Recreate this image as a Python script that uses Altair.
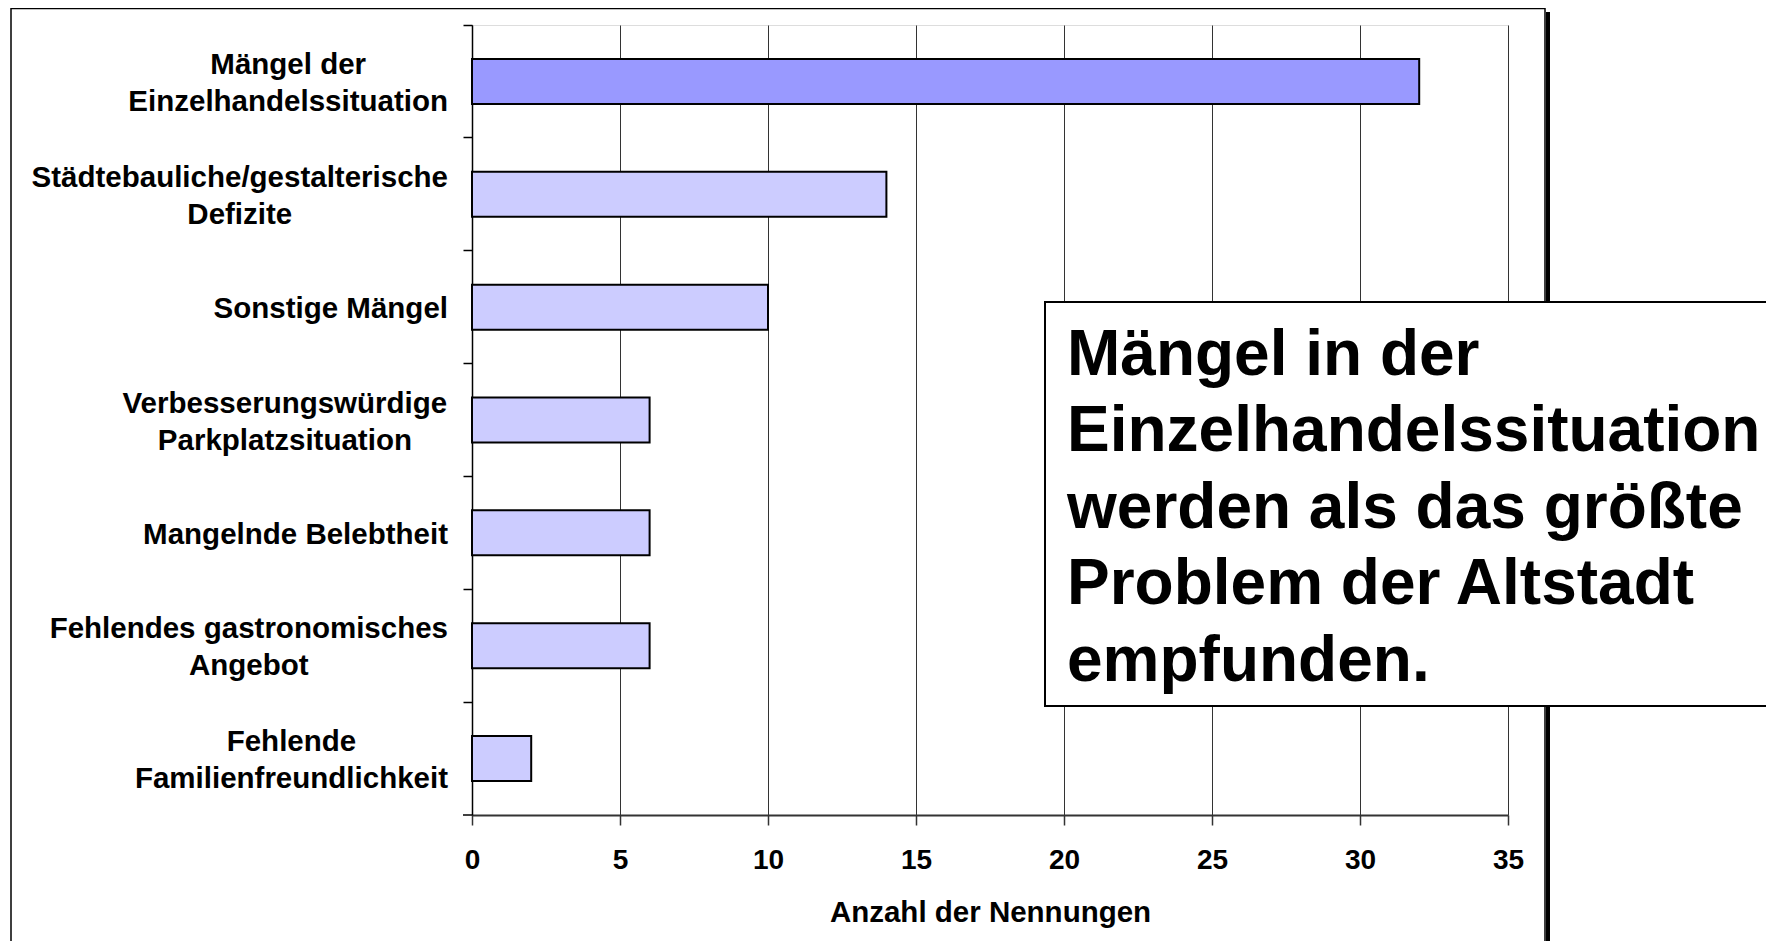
import altair as alt
import pandas as pd

# ---- data ----
categories = [
    "Mängel der\nEinzelhandelssituation",
    "Städtebauliche/gestalterische\nDefizite",
    "Sonstige Mängel",
    "Verbesserungswürdige\nParkplatzsituation",
    "Mangelnde Belebtheit",
    "Fehlendes gastronomisches\nAngebot",
    "Fehlende\nFamilienfreundlichkeit",
]
values = [32, 14, 10, 6, 6, 6, 2]
highlight = [True, False, False, False, False, False, False]
x_ticks = [0, 5, 10, 15, 20, 25, 30, 35]
x_title = "Anzahl der Nennungen"
note_lines = [
    "Mängel in der",
    "Einzelhandelssituation",
    "werden als das größte",
    "Problem der Altstadt",
    "empfunden.",
]

# ---- layout ----
W, H = 1036, 790
XMAX = 35
FONT = "Liberation Sans"
LABEL_FS = 29.5
LABEL_LH = 37
LABEL_GAP = 24

# Arial/Liberation Sans Bold advance widths (per 1000 em) to centre the
# multi-line category labels inside a right-aligned block (Excel style)
ADV = {' ': 278, '/': 278, '.': 278, 'A': 722, 'B': 722, 'D': 722, 'E': 667,
       'F': 611, 'M': 833, 'P': 667, 'S': 667, 'V': 667, 'a': 556, 'b': 611,
       'c': 556, 'd': 611, 'e': 556, 'f': 333, 'g': 611, 'h': 611, 'i': 278,
       'k': 556, 'l': 278, 'm': 889, 'n': 611, 'o': 611, 'p': 611, 'r': 389,
       's': 556, 't': 333, 'u': 611, 'w': 778, 'z': 500, 'ä': 556, 'ü': 611}


def text_width(s, fs):
    return max(sum(ADV.get(c, 600) for c in line) for line in s.split("\n")) * fs / 1000.0


px_per_unit = W / XMAX
label_anchor = [(-LABEL_GAP - text_width(c, LABEL_FS) / 2) / px_per_unit for c in categories]

df = pd.DataFrame({
    "cat": categories,
    "value": values,
    "hl": ["a" if h else "b" for h in highlight],
    "lx": label_anchor,
    "nl": [c.count("\n") + 1 for c in categories],
})

one = pd.DataFrame({"k": [0]})

y_enc = alt.Y(
    "cat:N",
    sort=categories,
    scale=alt.Scale(paddingInner=0, paddingOuter=0),
    axis=alt.Axis(
        labels=False, title=None, bandPosition=0, tickSize=9,
        tickColor="#000000", domainColor="#000000", domainWidth=1.5, tickWidth=1.5,
    ),
)
x_scale = alt.Scale(domain=[0, XMAX], nice=False, zero=True)

bars = alt.Chart(df).mark_bar(size=45, stroke="#000000", strokeWidth=2).encode(
    x=alt.X(
        "value:Q",
        scale=x_scale,
        axis=alt.Axis(
            values=x_ticks, grid=True, gridColor="#333333", gridWidth=1,
            domainColor="#333333", domainWidth=2, tickColor="#333333", tickSize=10,
            tickWidth=1.5, labelFontSize=28, labelFontWeight="bold", labelFont=FONT,
            labelColor="#000000", labelPadding=21, labelFlush=False,
            title=x_title, titleFontSize=29.5,
            titleFontWeight="bold", titleFont=FONT, titleColor="#000000", titlePadding=24,
        ),
    ),
    y=y_enc,
    color=alt.Color("hl:N", scale=alt.Scale(domain=["a", "b"], range=["#9999FF", "#CCCCFF"]), legend=None),
)


def label_layer(nlines):
    return alt.Chart(df).transform_filter(
        alt.datum.nl == nlines
    ).mark_text(
        align="center", baseline="middle", font=FONT, fontSize=LABEL_FS,
        fontWeight="bold", lineBreak="\n", lineHeight=LABEL_LH, color="#000000",
        dy=-(nlines - 1) * LABEL_LH / 2 + 2,
    ).encode(
        x=alt.X("lx:Q", scale=x_scale),
        y=alt.Y("cat:N", sort=categories),
        text="cat:N",
    )


labels1 = label_layer(1)
labels2 = label_layer(2)

bottom_tick = alt.Chart(one).mark_rule(color="#000000", strokeWidth=1.5).encode(
    x=alt.value(-9), x2=alt.value(0), y=alt.value(H)
)

frame = alt.Chart(one).mark_rect(fillOpacity=0, stroke="#000000", strokeWidth=1.5).encode(
    x=alt.value(-461), x2=alt.value(1073), y=alt.value(-16.5), y2=alt.value(960)
)
shadow = alt.Chart(one).mark_rule(color="#000000", strokeWidth=4).encode(
    x=alt.value(1076), y=alt.value(-13), y2=alt.value(960)
)

note_box = alt.Chart(one).mark_rect(fill="#FFFFFF", stroke="#000000", strokeWidth=2).encode(
    x=alt.value(573), x2=alt.value(1330), y=alt.value(277), y2=alt.value(681)
)
note_text = alt.Chart(one).mark_text(
    align="left", baseline="alphabetic", font=FONT, fontSize=64,
    fontWeight="bold", lineHeight=76.4, color="#000000",
).encode(
    x=alt.value(595), y=alt.value(350), text=alt.value(note_lines)
)

chart = alt.layer(frame, shadow, bars, bottom_tick, labels1, labels2, note_box, note_text).properties(
    width=W, height=H,
    autosize=alt.AutoSizeParams(type="none"),
    padding={"left": 464, "top": 17, "right": 258, "bottom": 126},
    background="#FFFFFF",
).configure_view(
    stroke="#888888", strokeWidth=1.5
).configure(font=FONT)

chart.save("out.html", embed_options={"renderer": "svg", "actions": False})
